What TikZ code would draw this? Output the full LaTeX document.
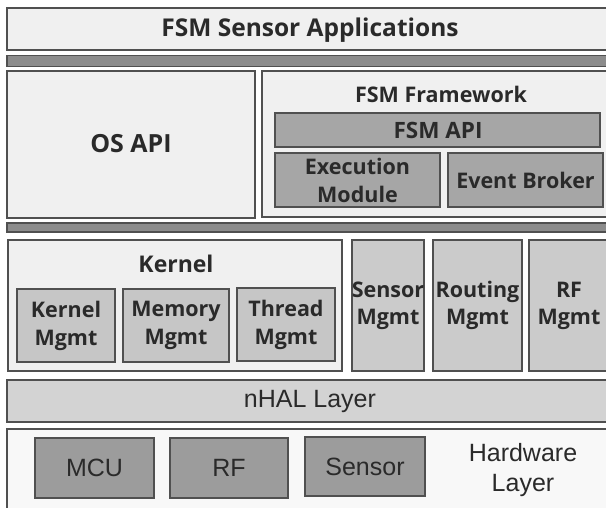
\documentclass[tikz,border=0pt]{standalone}
\usepackage{fontspec}
\setmainfont{Open Sans}
\newfontfamily\regfont{Liberation Sans}
\definecolor{edge}{HTML}{505050}
\definecolor{light}{HTML}{F0F0F0}
\definecolor{barc}{HTML}{8C8C8C}
\definecolor{dkbox}{HTML}{A6A6A6}
\definecolor{kmg}{HTML}{C6C6C6}
\definecolor{smg}{HTML}{CBCBCB}
\definecolor{nhalc}{HTML}{D3D3D3}
\definecolor{hwc}{HTML}{F8F8F8}
\definecolor{hwbox}{HTML}{9C9C9C}
\definecolor{txt}{HTML}{2A2A2A}
\begin{document}
\begin{tikzpicture}[x=1pt,y=-1pt,
  blk/.style={draw=edge, line width=1.3pt, inner sep=0pt, outer sep=0pt},
  lbl/.style={text=txt, font=\bfseries\fontsize{21.5}{28}\selectfont, align=center, inner sep=0pt},
  rlbl/.style={text=txt, font=\regfont\fontsize{25}{30}\selectfont, align=center, inner sep=0pt}]
\path[use as bounding box, fill=white] (0,0) rectangle (606,508);
\begin{scope}
\clip (0,0) rectangle (606,508);
% top
\node[blk, fill=light, minimum width=603pt, minimum height=42pt] (apps) at (308.5,29) {};
\node[lbl, font=\bfseries\fontsize{24.5}{28}\selectfont] (appsT) at (310,30) {FSM Sensor Applications};
\node[blk, fill=barc, minimum width=603pt, minimum height=11pt] (bar1) at (308.5,61) {};
% OS API / framework
\node[blk, fill=light, minimum width=248pt, minimum height=147pt] (os) at (131,144.5) {};
\node[lbl, font=\bfseries\fontsize{25}{28}\selectfont] (osT) at (131,144) {OS API};
\node[blk, fill=light, minimum width=349pt, minimum height=146pt] (fw) at (436.5,144) {};
\node[lbl] (fwT) at (441,94) {FSM Framework};
\node[blk, fill=dkbox, minimum width=325pt, minimum height=34pt] (fsmapi) at (437.5,130) {};
\node[lbl, font=\bfseries\fontsize{22.5}{28}\selectfont] (fsmapiT) at (438,130) {FSM API};
\node[blk, fill=dkbox, minimum width=165pt, minimum height=54pt] (exec) at (357.5,180) {};
\node[lbl] (execT) at (exec.center) {Execution\\Module};
\node[blk, fill=dkbox, minimum width=155pt, minimum height=54pt] (event) at (525.5,180) {};
\node[lbl] (eventT) at (event.center) {Event Broker};
\node[blk, fill=barc, minimum width=603pt, minimum height=9pt] (bar2) at (308.5,227.5) {};
% kernel row
\node[blk, fill=light, minimum width=334pt, minimum height=131pt] (kernel) at (175,305.5) {};
\node[lbl, font=\bfseries\fontsize{23}{28}\selectfont] (kernelT) at (176,264) {Kernel};
\node[blk, fill=kmg, minimum width=98pt, minimum height=73pt] (km) at (66,325.5) {};
\node[lbl] (kmT) at (km.center) {Kernel\\Mgmt};
\node[blk, fill=kmg, minimum width=106pt, minimum height=73pt] (mm) at (176,325.5) {};
\node[lbl] (mmT) at (mm.center) {Memory\\Mgmt};
\node[blk, fill=kmg, minimum width=98pt, minimum height=73pt] (tm) at (286,324.5) {};
\node[lbl] (tmT) at (tm.center) {Thread\\Mgmt};
\node[blk, fill=smg, minimum width=72pt, minimum height=131pt] (sm) at (388,305.5) {};
\node[lbl, font=\bfseries\fontsize{21.5}{27}\selectfont] (smT) at (sm.center) {Sensor\\Mgmt};
\node[blk, fill=smg, minimum width=89pt, minimum height=131pt] (rm) at (477.5,305.5) {};
\node[lbl, font=\bfseries\fontsize{21.5}{27}\selectfont] (rmT) at (rm.center) {Routing\\Mgmt};
\node[blk, fill=smg, minimum width=80pt, minimum height=131pt] (rfm) at (569,305.5) {};
\node[lbl, font=\bfseries\fontsize{21.5}{27}\selectfont] (rfmT) at (rfm.center) {RF\\Mgmt};
% nHAL
\node[blk, fill=nhalc, minimum width=603pt, minimum height=42pt] (nhal) at (308.5,401) {};
\node[rlbl] (nhalT) at (310,401) {nHAL Layer};
% hardware
\node[blk, fill=hwc, minimum width=603pt, minimum height=83pt] (hw) at (308.5,470.5) {};
\node[blk, fill=hwbox, minimum width=119pt, minimum height=60pt] (mcu) at (94.5,468) {};
\node[rlbl] (mcuT) at (mcu.center) {MCU};
\node[blk, fill=hwbox, minimum width=118pt, minimum height=60pt] (rf) at (229,468) {};
\node[rlbl] (rfT) at (rf.center) {RF};
\node[blk, fill=hwbox, minimum width=120pt, minimum height=59pt] (sens) at (365,466.5) {};
\node[rlbl] (sensT) at (sens.center) {Sensor};
\node[rlbl] (hwT) at (523,470) {Hardware\\Layer};
\end{scope}
\end{tikzpicture}
\end{document}
